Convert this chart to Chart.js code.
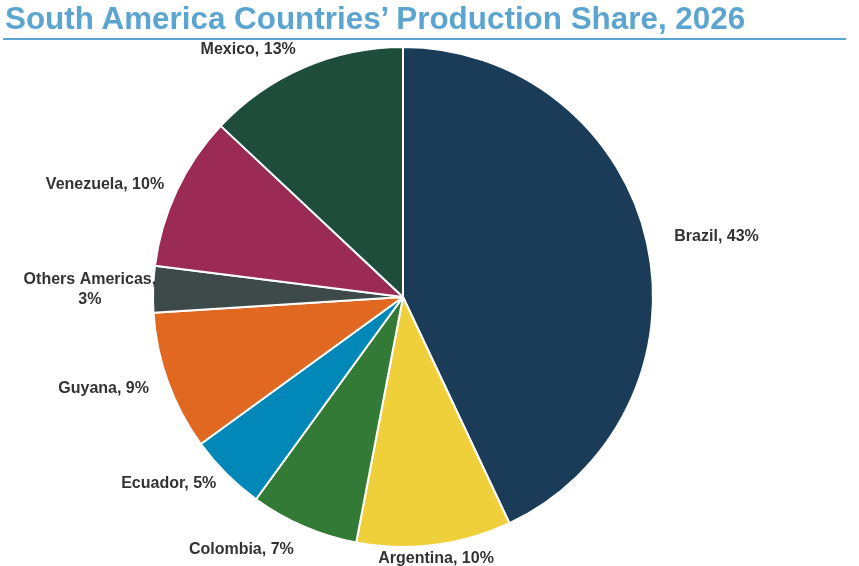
<!DOCTYPE html>
<html>
<head>
<meta charset="utf-8">
<script src="https://cdn.jsdelivr.net/npm/chart.js@4"></script>
<style>
  html, body { margin: 0; padding: 0; background: #fff; }
  #wrap { position: relative; width: 859px; height: 566px; overflow: hidden; }
  #title {
    position: absolute; left: 5px; top: 1px;
    font-family: 'Liberation Sans', Arial, sans-serif; font-weight: bold;
    font-size: 31.4px; line-height: 36px; color: #5DA5D1; white-space: nowrap;
  }
  #rule { position: absolute; left: 3px; top: 38px; width: 843px; height: 2px; background: #5DA5D1; }
  #chart { position: absolute; left: 0; top: 0; }
</style>
</head>
<body>
<div id="wrap">
  <canvas id="chart" width="859" height="566"></canvas>
  <div id="title">South America Countries’ Production Share, 2026</div>
  <div id="rule"></div>
</div>
<script>
// clockwise from 12 o'clock
const countries = ['Brazil', 'Argentina', 'Colombia', 'Ecuador', 'Guyana', 'Others Americas', 'Venezuela', 'Mexico'];
const shares = [43, 10, 7, 5, 9, 3, 10, 13];
const sliceColors = ['#1B3C58', '#F0D03A', '#327A35', '#0188B8', '#E06820', '#3E4A4A', '#9B2B55', '#1E4D3C'];

// outside labels: "Name, NN%" placed along the slice's mid angle
const labelGap = [28, 14, 25, 14, 20, -3, 14, 20];   // distance beyond the rim, px

const outsideLabels = {
    id: 'outsideLabels',
    afterDatasetsDraw(chart) {
        const ctx = chart.ctx;
        const arcs = chart.getDatasetMeta(0).data;
        ctx.save();
        ctx.font = 'bold 16px "Liberation Sans", Arial, sans-serif';
        ctx.fillStyle = '#333333';
        ctx.textBaseline = 'middle';
        arcs.forEach((arc, i) => {
            const p = arc.getProps(['x', 'y', 'startAngle', 'endAngle', 'outerRadius'], true);
            const mid = (p.startAngle + p.endAngle) / 2;
            const cx = Math.cos(mid), cy = Math.sin(mid);
            const r = p.outerRadius + labelGap[i];
            const ax = p.x + cx * r;
            const ay = p.y + cy * r;
            const name = countries[i];
            // long name wraps like the original
            const lines = name.length > 12 ? [name + ',', shares[i] + '%'] : [name + ', ' + shares[i] + '%'];
            const lh = 20;
            const maxW = Math.max(...lines.map(l => ctx.measureText(l).width));
            let centerX;
            if (cx > 0.3) centerX = ax + maxW / 2;
            else if (cx < -0.3) centerX = ax - maxW / 2;
            else centerX = ax;
            ctx.textAlign = 'center';
            lines.forEach((l, k) => {
                ctx.fillText(l, centerX, ay + (k - (lines.length - 1) / 2) * lh);
            });
        });
        ctx.restore();
    }
};

new Chart(document.getElementById('chart').getContext('2d'), {
    type: 'pie',
    data: {
        labels: countries,
        datasets: [{
            data: shares,
            backgroundColor: sliceColors,
            borderColor: '#ffffff',
            borderWidth: 2
        }]
    },
    options: {
        responsive: false,
        animation: false,
        layout: { padding: { top: 46, bottom: 18, left: 100, right: 153 } },
        plugins: {
            legend: { display: false },
            tooltip: { enabled: false }
        }
    },
    plugins: [outsideLabels]
});
</script>
</body>
</html>
